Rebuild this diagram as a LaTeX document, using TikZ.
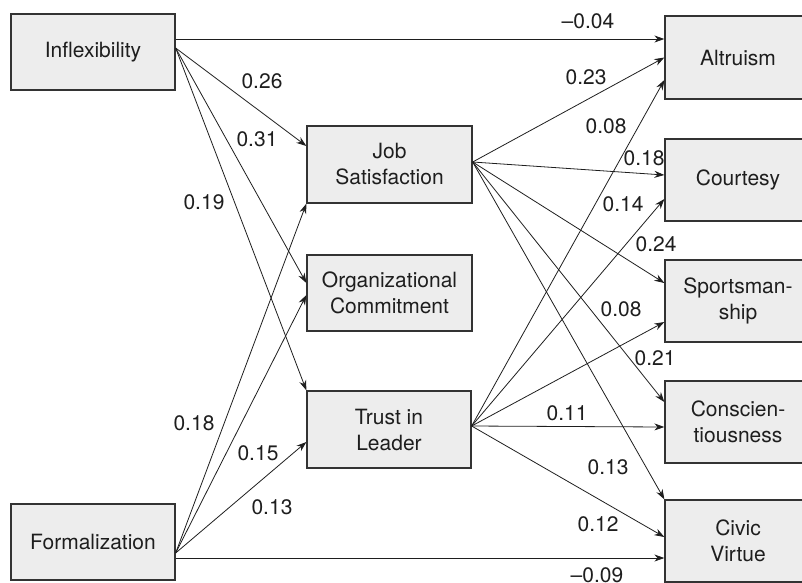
\documentclass[tikz,border=0pt]{standalone}
\usepackage{fontspec}
\setmainfont{TeX Gyre Heros}
\usetikzlibrary{arrows.meta}
\definecolor{boxfill}{HTML}{EDEDED}
\definecolor{boxline}{HTML}{333333}
\definecolor{ink}{HTML}{1E1E1E}
\begin{document}
\begin{tikzpicture}[x=1pt,y=-1pt,
  font=\fontsize{21}{26}\selectfont,
  varbox/.style={draw=boxline, line width=1.3pt, fill=boxfill, text=ink,
    inner sep=0pt, align=center, minimum width=164pt, minimum height=76pt},
  outbox/.style={varbox, minimum width=146pt, minimum height=82pt},
  path/.style={draw=ink, line width=0.8pt, -{Stealth[length=10pt,width=7pt]}},
  coef/.style={text=ink, inner sep=0pt}]
\useasboundingbox (0,0) rectangle (802,582);

% predictors
\node[varbox] (infl) at (93,52) {Inflexibility};
\node[varbox] (form) at (93,542) {Formalization};

% mediators
\node[varbox, minimum width=165pt, minimum height=77pt] (job) at (389.5,164.5) {Job\\Satisfaction};
\node[varbox, minimum width=165pt] (org) at (389.5,293) {Organizational\\Commitment};
\node[varbox, minimum height=77pt] (trust) at (389,429.5) {Trust in\\Leader};

% outcomes
\node[outbox, minimum height=83pt] (alt) at (738,57.5) {Altruism};
\node[outbox] (court) at (738,180) {Courtesy};
\node[outbox] (sport) at (738,301) {Sportsman-\\ship};
\node[outbox] (consc) at (738,422) {Conscien-\\tiousness};
\node[outbox] (civic) at (738,541) {Civic\\Virtue};

% Inflexibility paths
\draw[path] ([yshift=13pt]infl.east) -- ([yshift=18.5pt]alt.west);
\draw[path] ([yshift=4pt]infl.east) -- ([yshift=18.5pt]job.west);
\draw[path] ([yshift=4pt]infl.east) -- ([yshift=10pt]org.west);
\draw[path] ([yshift=4pt]infl.east) -- (trust.north west);

% Formalization paths
\draw[path] ([yshift=-11pt]form.east) -- (job.south west);
\draw[path] ([yshift=-11pt]form.east) -- ([yshift=-2pt]org.west);
\draw[path] ([yshift=-11pt]form.east) -- ([yshift=-12.5pt]trust.west);
\draw[path] ([yshift=-16pt]form.east) -- ([yshift=-17pt]civic.west);

% Job Satisfaction paths
\draw[path] ([yshift=2.5pt]job.east) -- ([yshift=0pt]alt.west);
\draw[path] ([yshift=2.5pt]job.east) -- ([yshift=5pt]court.west);
\draw[path] ([yshift=2.5pt]job.east) -- ([yshift=18pt]sport.west);
\draw[path] ([yshift=2.5pt]job.east) -- ([yshift=20pt]consc.west);
\draw[path] ([yshift=2.5pt]job.east) -- (civic.north west);

% Trust in Leader paths
\draw[path] ([yshift=3.5pt]trust.east) -- ([yshift=-22.5pt]alt.west);
\draw[path] ([yshift=3.5pt]trust.east) -- ([yshift=-19pt]court.west);
\draw[path] ([yshift=3.5pt]trust.east) -- ([yshift=-21pt]sport.west);
\draw[path] ([yshift=3.5pt]trust.east) -- ([yshift=-5pt]consc.west);
\draw[path] ([yshift=3.5pt]trust.east) -- ([yshift=4pt]civic.west);

% coefficients
\node[coef] (c1)  at (588,21)  {–0.04};
\node[coef] (c2)  at (262,81)  {0.26};
\node[coef] (c3)  at (257,139) {0.31};
\node[coef] (c4)  at (204,202) {0.19};
\node[coef] (c5)  at (194,423) {0.18};
\node[coef] (c6)  at (258,453) {0.15};
\node[coef] (c7)  at (272,507) {0.13};
\node[coef] (c8)  at (586,77)  {0.23};
\node[coef] (c9)  at (606,126) {0.08};
\node[coef] (c10) at (644,158) {0.18};
\node[coef] (c11) at (623,204) {0.14};
\node[coef] (c12) at (656,244) {0.24};
\node[coef] (c13) at (621,309) {0.08};
\node[coef] (c14) at (655,358) {0.21};
\node[coef] (c15) at (567,413) {0.11};
\node[coef] (c16) at (608,467) {0.13};
\node[coef] (c17) at (598,524) {0.12};
\node[coef] (c18) at (597,575) {–0.09};
\end{tikzpicture}
\end{document}
